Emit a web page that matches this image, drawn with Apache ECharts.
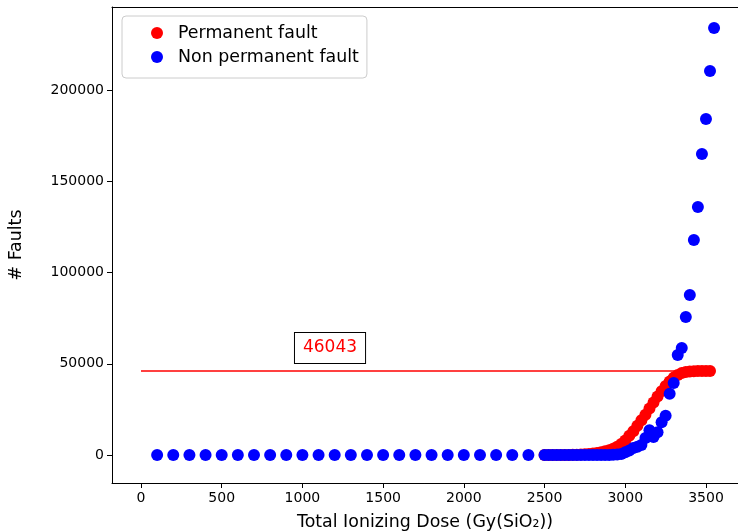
<!DOCTYPE html>
<html>
<head>
<meta charset="utf-8">
<script src="https://cdn.jsdelivr.net/npm/echarts@6/dist/echarts.min.js"></script>
<style>
  html, body { margin: 0; padding: 0; background: #fff; }
  #chart { width: 738px; height: 531px; }
</style>
</head>
<body>
<div id="chart"></div>
<script>
// sparse blue points below 2500, then 25 Gy steps
const blueDose = [100, 200, 300, 400, 500, 600, 700, 800, 900, 1000, 1100, 1200,
  1300, 1400, 1500, 1600, 1700, 1800, 1900, 2000, 2100, 2200, 2300, 2400,
  2500, 2525, 2550, 2575, 2600, 2625, 2650, 2675, 2700, 2725, 2750, 2775,
  2800, 2825, 2850, 2875, 2900, 2925, 2950, 2975, 3000, 3025, 3050, 3075,
  3100, 3125, 3150, 3175, 3200, 3225, 3250, 3275, 3300, 3325, 3350, 3375,
  3400, 3425, 3450, 3475, 3500, 3525, 3550]
const blueFaults = [0, 0, 0, 0, 0, 0, 0, 0, 0, 0, 0, 0,
  0, 0, 0, 0, 0, 0, 0, 0, 0, 0, 0, 0,
  0, 0, 0, 0, 0, 0, 0, 0, 0, 0, 0, 0,
  0, 0, 0, 0, 0, 100, 300, 600, 1500, 2500, 3800, 4500,
  5500, 9300, 13500, 9800, 12500, 18000, 21500, 33500, 39500, 54800, 58600, 75600,
  87700, 117800, 135900, 164900, 184100, 210400, 234000]

const redDose = [2500, 2525, 2550, 2575, 2600, 2625, 2650, 2675, 2700, 2725, 2750, 2775,
  2800, 2825, 2850, 2875, 2900, 2925, 2950, 2975, 3000, 3025, 3050, 3075,
  3100, 3125, 3150, 3175, 3200, 3225, 3250, 3275, 3300, 3325, 3350, 3375,
  3400, 3425, 3450, 3475, 3500, 3525]
const redFaults = [0, 0, 0, 0, 0, 20, 60, 120, 200, 300, 400, 600,
  800, 1100, 1500, 2000, 2600, 3400, 4500, 6000, 8000, 10500, 13000, 16000,
  19000, 22000, 25500, 28800, 32000, 35000, 37800, 40300, 42400, 43900, 44900, 45500,
  45800, 45950, 46000, 46020, 46035, 46043]

const limitValue = 46043
const limitLine = [0, 3550]
const labelAt = [1171, 58600]

const xTicks = [0, 500, 1000, 1500, 2000, 2500, 3000, 3500]
const yTicks = [0, 50000, 100000, 150000, 200000]

const font = "DejaVu Sans"
const zip = (a, b) => a.map((v, i) => [v, b[i]])

const axisCommon = {
  axisLine: {show: true, onZero: false, lineStyle: {color: "#000", width: 1}},
  axisTick: {show: true, inside: false, length: 5, lineStyle: {color: "#000"}},
  splitLine: {show: false},
  nameTextStyle: {color: "#000", fontFamily: font, fontSize: 17.4},
}
const tickLabel = {color: "#000", fontFamily: font, fontSize: 14, margin: 8, formatter: v => String(v)}

const option = {
  animation: false,
  backgroundColor: "#fff",
  grid: {left: 112, top: 7, right: 0, bottom: 48, outerBoundsMode: "none", containLabel: false},
  legend: {
    orient: "vertical", left: 122, top: 16,
    padding: [7, 8, 11, 29], itemGap: 4, itemWidth: 12, itemHeight: 12,
    borderColor: "#cccccc", borderWidth: 1, borderRadius: 4,
    textStyle: {color: "#000", fontFamily: font, fontSize: 17.4, lineHeight: 20, padding: [0, 0, 0, 10]},
    data: [{name: "Permanent fault", icon: "circle"}, {name: "Non permanent fault", icon: "circle"}]
  },
  xAxis: [
    Object.assign({}, axisCommon, {
      type: "value", min: -179.6, max: 3698.4,
      name: "Total Ionizing Dose (Gy(SiO\u2082))", nameLocation: "middle", nameGap: 31,
      axisTick: Object.assign({}, axisCommon.axisTick, {customValues: xTicks}),
      axisLabel: Object.assign({customValues: xTicks}, tickLabel),
    }),
    {
      // top frame line only
      type: "value", position: "top", min: -179.6, max: 3698.4,
      axisLine: {show: true, onZero: false, lineStyle: {color: "#000", width: 1}},
      axisTick: {show: false}, axisLabel: {show: false}, splitLine: {show: false}
    }
  ],
  yAxis: Object.assign({}, axisCommon, {
    type: "value", min: -15342, max: 245480,
    name: "# Faults", nameLocation: "middle", nameGap: 87, nameRotate: 90,
    axisTick: Object.assign({}, axisCommon.axisTick, {customValues: yTicks}),
    axisLabel: Object.assign({customValues: yTicks}, tickLabel),
  }),
  series: [
    {
      name: "Permanent fault", type: "scatter", symbolSize: 12, z: 2,
      itemStyle: {color: "#ff0000", opacity: 1},
      data: zip(redDose, redFaults)
    },
    {
      name: "Non permanent fault", type: "scatter", symbolSize: 12, z: 3,
      itemStyle: {color: "#0000ff", opacity: 1},
      data: zip(blueDose, blueFaults)
    },
    {
      name: "limit", type: "line", showSymbol: false, z: 1,
      lineStyle: {color: "#ff0000", width: 1.5},
      data: limitLine.map(x => [x, limitValue]),
      markPoint: {
        symbol: "rect", symbolSize: 1, itemStyle: {color: "transparent"},
        label: {
          show: true, position: "inside", formatter: String(limitValue),
          color: "#ff0000", fontFamily: font, fontSize: 17,
          backgroundColor: "#fff", borderColor: "#000", borderWidth: 1,
          padding: [7, 8, 6, 8]
        },
        data: [{coord: labelAt}]
      }
    }
  ]
}

const chart = echarts.init(document.getElementById("chart"))
chart.setOption(option)
</script>
</body>
</html>
